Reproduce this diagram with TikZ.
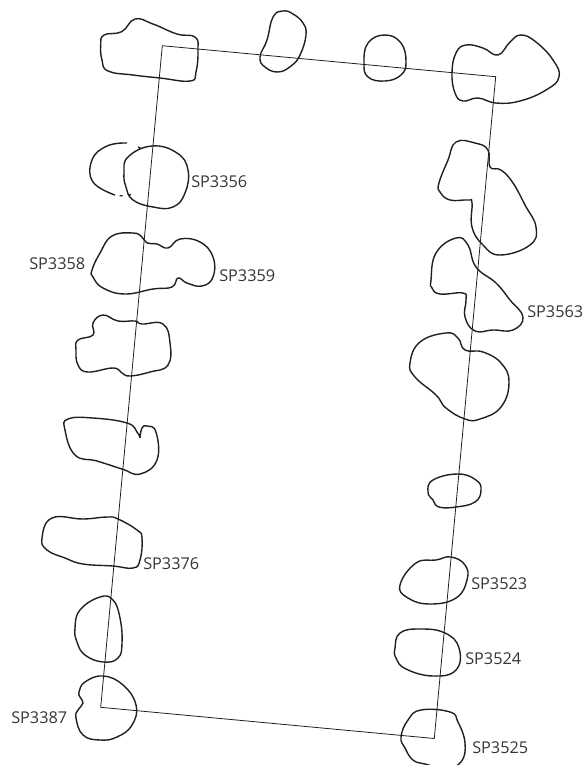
\documentclass[tikz,border=0pt]{standalone}
\usepackage{fontspec}
\setmainfont{Open Sans}
\definecolor{ink}{HTML}{231F20}
\tikzset{
  blob/.style={draw=ink,line width=1.05pt,smooth cycle,tension=0.75},
  blobopen/.style={draw=ink,line width=1.05pt,smooth,tension=0.75},
  frameline/.style={draw=ink,line width=0.6pt,line join=miter},
  lab/.style={anchor=west,inner sep=0pt,text=ink!90,font=\fontsize{12.2pt}{14pt}\selectfont}
}
\begin{document}
\begin{tikzpicture}[x=0.75pt,y=-0.75pt]
\useasboundingbox (0,0) rectangle (586,765);
% frame
\draw[frameline] (162.3,45.7) -- (495.7,76.7) -- (434.3,738.5) -- (100.7,707.3) -- cycle;
% top row
\draw[blob] plot coordinates {(100.7,45) (104,35) (121.7,31.7) (135,19) (153,24) (177,34) (195,37) (198,50) (196,72) (190,81) (160,78) (133,75) (108,71) (102,60)};
\draw[blob] plot coordinates {(260,57) (267,40) (273,17) (283,11) (293,14) (303,23) (306,35) (300,55) (291,66) (278,72) (265,67)};
\draw[blob] plot coordinates {(364,63) (368,43) (385,35) (401,43) (406,62) (401,75) (385,81) (368,77)};
\draw[blob] plot coordinates {(452,73) (456,53) (466,45) (483,48) (498,55) (510,42) (521,35) (536,42) (553,60) (559,77) (546,90) (520,101) (496,103) (478,98) (463,101) (455,93)};
% left column
\draw[blob] plot coordinates {(124,173) (128,157) (152,146) (177,153) (188,170) (185,193) (173,207) (153,207) (133,200) (126,187)};
\draw[blobopen] plot coordinates {(127,143) (107,146) (92,160) (93,182) (115,195)};
\draw[draw=ink,line width=1.05pt] (119.5,195.7) -- (122.7,195.7) (128,195) -- (131,194.5) (138,147) -- (141,148.5);
\draw[blob] plot coordinates {(92,270) (100,253) (112,236) (133,233) (142,237) (147,243) (157,244) (168,248) (180,239) (200,242) (213,257) (213,277) (202,286) (187,283) (178,278) (172,287) (153,289) (125,294) (103,288) (93,277)};
\draw[blob] plot coordinates {(76,350) (78,340) (93,335) (93,323) (103,315) (118,321) (135,321) (142,324) (163,324) (170,343) (168,365) (150,372) (130,376) (122,373) (113,368) (88,372) (78,365)};
\draw[blobopen] plot coordinates {(140,438) (142,428) (147,426) (156,432) (157,460) (140,474) (122,469) (97,461) (75,455) (65,430) (68,419) (93,418) (127,423) (137,432) (140,438)};
\draw[blob] plot coordinates {(42,538) (52,518) (83,519) (107,517) (118,519) (137,530) (142,538) (140,560) (133,568) (113,566) (83,564) (65,558) (47,550)};
\draw[blob] plot coordinates {(75,628) (80,610) (100,597) (113,600) (120,618) (122,643) (118,658) (103,662) (85,655) (77,642)};
\draw[blob] plot coordinates {(79,692) (85,682) (103,676) (123,685) (136,705) (132,725) (117,737) (100,740) (83,735) (76,718) (78,710) (83,703) (80,697)};
% right column
\draw[blob] plot coordinates {(439,183) (448,160) (456,142) (475,143) (488,150) (490,167) (501,170) (513,183) (525,205) (536,227) (530,245) (500,255) (483,245) (472,227) (472,203) (468,200) (450,200) (440,192)};
\draw[blob] plot coordinates {(431,280) (436,253) (456,238) (468,245) (476,267) (496,283) (510,300) (523,317) (513,330) (493,330) (475,331) (465,317) (466,300) (463,293) (440,294) (432,288)};
\draw[blob] plot coordinates {(410,363) (420,342) (446,333) (458,338) (465,350) (483,352) (501,363) (509,382) (501,407) (480,419) (465,419) (446,408) (436,395) (415,377)};
\draw[blob] plot coordinates {(428,492) (433,480) (458,474) (476,480) (481,490) (475,502) (456,507) (439,507) (433,500)};
\draw[blob] plot coordinates {(400,585) (416,563) (436,560) (451,557) (465,565) (467,580) (456,598) (430,604) (408,598)};
\draw[blob] plot coordinates {(395,648) (400,633) (420,629) (445,633) (459,648) (456,670) (433,676) (406,669) (396,658)};
\draw[blob] plot coordinates {(401,737) (408,720) (421,710) (450,712) (458,722) (465,743) (461,762) (445,768) (425,764) (413,760) (405,748)};
% labels
\node[lab] (a) at (191,182) {SP3356};
\node[lab] (b) at (29,264) {SP3358};
\node[lab] (c) at (219,276) {SP3359};
\node[lab] (d) at (143,564) {SP3376};
\node[lab] (e) at (11,718) {SP3387};
\node[lab] (f) at (527,312) {SP3563};
\node[lab] (g) at (471,584) {SP3523};
\node[lab] (h) at (465,659) {SP3524};
\node[lab] (i) at (472,748) {SP3525};
\end{tikzpicture}
\end{document}
